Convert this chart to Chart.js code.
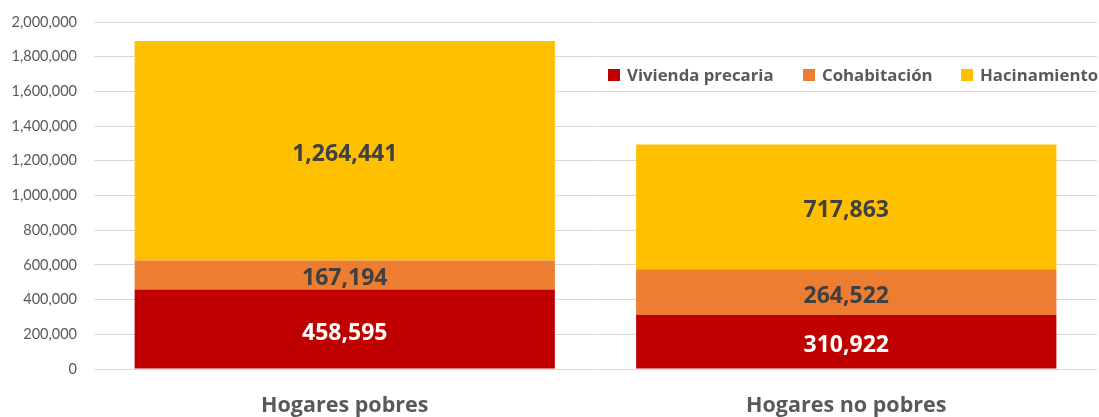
<!DOCTYPE html>
<html>
<head>
<meta charset="utf-8">
<script src="https://cdn.jsdelivr.net/npm/chart.js@4.4.1/dist/chart.umd.min.js"></script>
<style>
html,body{margin:0;padding:0;background:#fff;}
#wrap{width:1099px;height:417px;position:relative;}
</style>
</head>
<body>
<div id="wrap"><canvas id="c" width="1099" height="417"></canvas></div>
<script>
const categories = ["Hogares pobres", "Hogares no pobres"];
const seriesNames = ["Vivienda precaria", "Cohabitación", "Hacinamiento"];
const viviendaPrecaria = [458595, 310922];
const cohabitacion = [167194, 264522];
const hacinamiento = [1264441, 717863];
const seriesColors = ["#C00000", "#ED7D31", "#FFC000"];
const labelColors = ["#FFFFFF", "#404040", "#404040"];
const yTicks = [0, 200000, 400000, 600000, 800000, 1000000, 1200000, 1400000, 1600000, 1800000, 2000000];

const FONT = "Lato, 'Open Sans', sans-serif";
const BFONT = "'Open Sans', Lato, sans-serif";
const fmt = v => v.toLocaleString('en-US');

const valueLabels = {
  id: 'valueLabels',
  afterDatasetsDraw(chart) {
    const ctx = chart.ctx;
    ctx.save();
    ctx.font = "bold 23px " + BFONT;
    ctx.textAlign = 'center';
    ctx.textBaseline = 'middle';
    chart.data.datasets.forEach((ds, i) => {
      const meta = chart.getDatasetMeta(i);
      meta.data.forEach((bar, j) => {
        const p = bar.getProps(['x', 'y', 'base'], true);
        ctx.fillStyle = labelColors[i];
        ctx.fillText(fmt(ds.data[j]), p.x, (p.y + p.base) / 2 + 4);
      });
    });
    ctx.restore();
  }
};

const customLegend = {
  id: 'customLegend',
  afterDraw(chart) {
    const ctx = chart.ctx;
    ctx.save();
    ctx.font = "bold 16.8px " + BFONT;
    ctx.textBaseline = 'middle';
    const xs = [608, 803, 961];
    const y = 75;
    seriesNames.forEach((n, i) => {
      ctx.fillStyle = seriesColors[i];
      ctx.fillRect(xs[i], y - 6, 12, 12);
      ctx.fillStyle = '#595959';
      ctx.fillText(n, xs[i] + 19, y + 1);
    });
    ctx.restore();
  }
};

new Chart(document.getElementById('c'), {
  type: 'bar',
  data: {
    labels: categories,
    datasets: [
      { label: seriesNames[0], data: viviendaPrecaria, backgroundColor: seriesColors[0] },
      { label: seriesNames[1], data: cohabitacion, backgroundColor: seriesColors[1] },
      { label: seriesNames[2], data: hacinamiento, backgroundColor: seriesColors[2] }
    ]
  },
  options: {
    responsive: false,
    animation: false,
    devicePixelRatio: 1,
    layout: { padding: { top: 22, right: 2, left: 0, bottom: 0 } },
    datasets: { bar: { categoryPercentage: 1.0, barPercentage: 0.838, borderWidth: 0 } },
    plugins: { legend: { display: false }, tooltip: { enabled: false } },
    scales: {
      x: {
        stacked: true,
        grid: { display: false },
        border: { display: false },
        ticks: { color: '#595959', font: { family: BFONT, size: 21.5, weight: 'bold' }, padding: 16 },
        afterFit(s) { s.height = 48; s.paddingLeft = 0; s.paddingRight = 0; }
      },
      y: {
        stacked: true,
        min: 0, max: 2000000,
        afterBuildTicks(s) { s.ticks = yTicks.map(v => ({ value: v })); },
        grid: { color: '#D9D9D9', lineWidth: 1, drawTicks: false },
        border: { display: false },
        ticks: { color: '#595959', font: { family: FONT, size: 14.5 }, padding: 17, callback: v => fmt(v) },
        afterFit(s) { s.width = 94; s.paddingTop = 0; s.paddingBottom = 0; }
      }
    }
  },
  plugins: [valueLabels, customLegend]
});
</script>
</body>
</html>
